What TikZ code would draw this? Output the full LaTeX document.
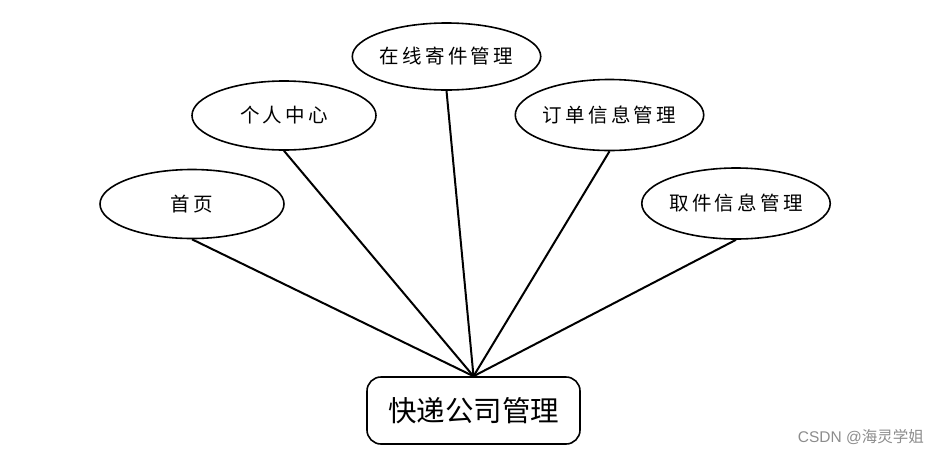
\documentclass[tikz,border=0pt]{standalone}
\usepackage{fontspec}
\setmainfont{Noto Sans CJK SC}
\newfontfamily\wmfont{Liberation Sans}
\usetikzlibrary{shapes.geometric}
\begin{document}
\begin{tikzpicture}[x=1pt,y=-1pt,
  leaf/.style={draw=black,line width=1.6pt,ellipse,inner sep=0pt,
    minimum width=184pt,minimum height=69pt,font=\fontsize{19.5}{21}\selectfont},
  hubbox/.style={draw=black,line width=1.6pt,rounded corners=14pt,inner sep=0pt,
    minimum width=213pt,minimum height=67pt,font=\fontsize{28.5}{32}\selectfont},
  link/.style={line width=2pt,draw=black}]
\useasboundingbox (0,0) rectangle (940,456);
\node[leaf] (home) at (192,204) {首\,页};
\node[leaf] (center) at (284,115.5) {个\,人\,中\,心};
\node[leaf,minimum height=67pt] (online) at (446.5,56.5) {在\,线\,寄\,件\,管\,理};
\node[leaf,minimum height=71pt] (order) at (609.5,115) {订\,单\,信\,息\,管\,理};
\node[leaf,minimum height=71pt] (pickup) at (736,203.5) {取\,件\,信\,息\,管\,理};
\node[hubbox] (hub) at (473.5,410.5) {快递公司管理};
\foreach \n in {home,center,online,order,pickup}
  \draw[link] (\n.south) -- (hub.north);
\node[font=\wmfont\fontsize{15.5}{17}\selectfont,text=black!45,anchor=east,inner sep=0pt] (wm) at (924,437) {CSDN @{\fontspec{Noto Sans CJK SC}海灵学姐}};
\end{tikzpicture}
\end{document}
